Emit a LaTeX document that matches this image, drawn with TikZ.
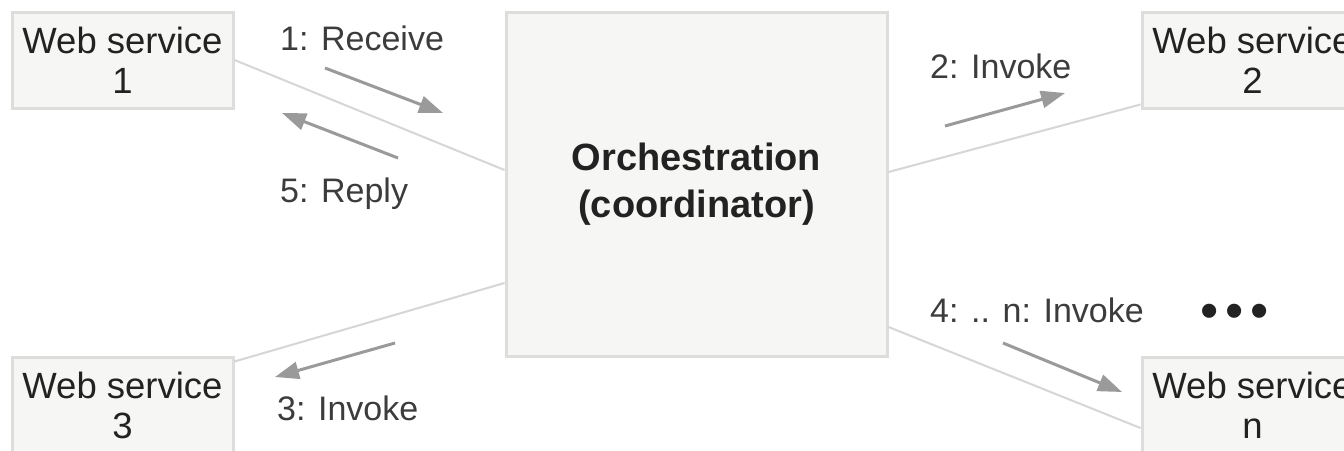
\documentclass[tikz,border=0pt]{standalone}
\usepackage{fontspec}
\setmainfont{Liberation Sans}
\usetikzlibrary{arrows.meta,calc}
\definecolor{boxline}{HTML}{DDDDDB}
\definecolor{boxfill}{HTML}{F6F7F5}
\definecolor{linkgrey}{HTML}{D6D6D6}
\definecolor{arrowgrey}{HTML}{9A9A9A}
\definecolor{textdark}{HTML}{222222}
\definecolor{labelgrey}{HTML}{3C3C3C}
\begin{document}
\begin{tikzpicture}[x=1pt,y=-1pt,
  wsbox/.style={draw=boxline, line width=3pt, fill=boxfill, inner sep=0pt, align=center,
    minimum width=221pt, minimum height=96pt, text=textdark, font=\fontsize{36.5}{40}\selectfont},
  orchbox/.style={draw=boxline, line width=3pt, fill=boxfill, inner sep=0pt, align=center,
    minimum width=381pt, minimum height=344pt, text=textdark, font=\bfseries\fontsize{38}{47}\selectfont},
  link/.style={draw=linkgrey, line width=2pt},
  flow/.style={draw=arrowgrey, line width=3pt, -{Triangle[length=24pt,width=17pt]}},
  lbl/.style={text=labelgrey, font=\fontsize{34}{40}\selectfont, inner sep=0pt, anchor=base west}]
\clip (0,0) rectangle (1344,450);
\fill[white] (0,0) rectangle (1344,450);

% nodes
\node[orchbox] (orch) at (696.5,184) {Orchestration\\(coordinator)};
\node[wsbox] (ws1) at (122.5,60) {Web service\\1};
\node[wsbox] (ws2) at (1252.5,60) {Web service\\2};
\node[wsbox] (ws3) at (122.5,405) {Web service\\3};
\node[wsbox] (wsn) at (1252.5,405) {Web service\\n};

% connectors
\draw[link] (ws1.east) -- ($(orch.west)+(0,-14)$);
\draw[link] ($(orch.east)+(0,-12)$) -- ($(ws2.south west)+(0,-5)$);
\draw[link] ($(ws3.north east)+(0,6)$) -- ($(orch.west)+(0,99)$);
\draw[link] ($(orch.east)+(0,143)$) -- ($(wsn.west)+(0,23)$);

% message arrows
\coordinate (a1s) at (325,68);   \coordinate (a1e) at (443,113);
\coordinate (a5s) at (398,158);  \coordinate (a5e) at (282,113);
\coordinate (a2s) at (945,126);  \coordinate (a2e) at (1065,93);
\coordinate (a3s) at (395,343);  \coordinate (a3e) at (275,377);
\coordinate (ans) at (1003,343); \coordinate (ane) at (1122,392);
\draw[flow] (a1s) -- (a1e);
\draw[flow] (a5s) -- (a5e);
\draw[flow] (a2s) -- (a2e);
\draw[flow] (a3s) -- (a3e);
\draw[flow] (ans) -- (ane);

% labels
\node[lbl] (l1) at (280,50) {1: Receive};
\node[lbl] (l5) at (280,202) {5: Reply};
\node[lbl] (l2) at (930,78) {2: Invoke};
\node[lbl] (l3) at (277,420) {3: Invoke};
\node[lbl] (ln) at (930,322) {4: .. n: Invoke};
\node[lbl, text=textdark, font=\fontsize{52}{52}\selectfont] (dots) at (1200,328) {•\hspace{7pt}•\hspace{7pt}•};
\end{tikzpicture}
\end{document}
